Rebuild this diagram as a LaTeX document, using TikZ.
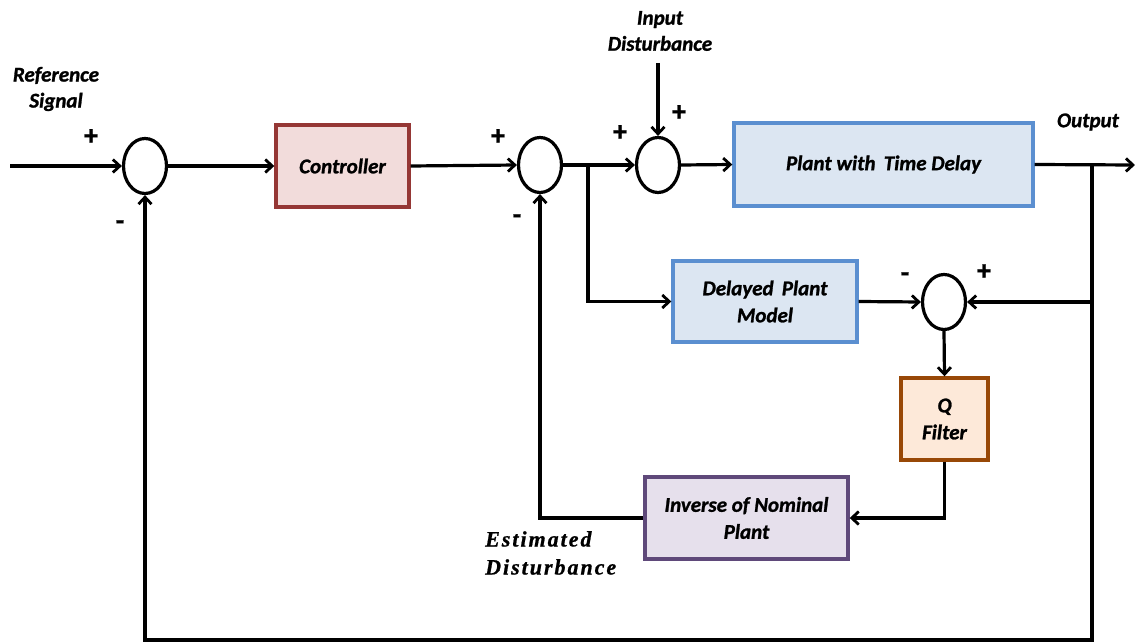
\documentclass[tikz,border=0pt]{standalone}
\usepackage{fontspec}
\setmainfont{Carlito}[BoldItalicFeatures={FakeBold=1.2},BoldFeatures={FakeBold=1.2}]
\newfontfamily\estfont{Liberation Serif}[LetterSpace=9,BoldItalicFeatures={FakeBold=0.8}]
\usetikzlibrary{arrows.meta,shapes.geometric}
\definecolor{ctrlfill}{HTML}{F2DCDB}
\definecolor{ctrldraw}{HTML}{953735}
\definecolor{plantfill}{HTML}{DCE6F2}
\definecolor{plantdraw}{HTML}{5B8FD0}
\definecolor{qfill}{HTML}{FDE9D9}
\definecolor{qdraw}{HTML}{984807}
\definecolor{invfill}{HTML}{E6E0EC}
\definecolor{invdraw}{HTML}{5F497A}
\tikzset{
  sumnode/.style={ellipse,draw=black,line width=3.2pt,minimum width=43pt,minimum height=55pt,inner sep=0pt,fill=white},
  blockbox/.style={rectangle,line width=3.4pt,align=center,inner sep=0pt,
    font=\fontsize{21}{27}\selectfont\bfseries\itshape},
  wire/.style={line width=3.2pt,-{Straight Barb[length=7pt,width=13pt,line width=2.8pt]}},
  sign/.style={font=\fontsize{28}{28}\selectfont\bfseries,inner sep=0pt},
  lbl/.style={font=\fontsize{21}{26}\selectfont\bfseries\itshape,align=center,inner sep=0pt},
}
\begin{document}
\begin{tikzpicture}[x=1pt,y=-1pt]
\useasboundingbox (0,0) rectangle (1135,644);
% summing junctions
\node[sumnode] (s1) at (145,166) {};
\node[sumnode] (s2) at (540,165) {};
\node[sumnode] (s3) at (658,165) {};
\node[sumnode] (s4) at (944,302) {};
% blocks
\node[blockbox,fill=ctrlfill,draw=ctrldraw,minimum width=133pt,minimum height=82pt] (ctrl) at (342.5,166) {Controller};
\node[blockbox,fill=plantfill,draw=plantdraw,minimum width=299pt,minimum height=83pt] (plant) at (883.5,164.5) {Plant with\, Time Delay};
\node[blockbox,fill=plantfill,draw=plantdraw,minimum width=184pt,minimum height=81pt] (dpm) at (765,301.5) {Delayed\, Plant\\Model};
\node[blockbox,fill=qfill,draw=qdraw,minimum width=87pt,minimum height=82pt] (qf) at (944.5,419) {Q\\Filter};
\node[blockbox,fill=invfill,draw=invdraw,minimum width=203pt,minimum height=82pt] (inv) at (746.5,518) {Inverse of Nominal\\Plant};
% texts
\node[lbl] (reft) at (56,89) {Reference\\Signal};
\node[lbl] (dist) at (660,31) {Input\\Disturbance};
\node[lbl] (outt) at (1088,122) {Output};
\node[font=\fontsize{22}{28}\selectfont\bfseries\itshape\estfont,align=left,inner sep=0pt,anchor=west] (estd) at (485,553) {Estimated\\Disturbance};
% signs
\node[sign] (p1) at (91,137) {+};
\node[sign] (m1) at (120,225) {-};
\node[sign] (p2) at (498,137) {+};
\node[sign] (m2) at (517,219) {-};
\node[sign] (p3) at (620,133) {+};
\node[sign] (p4) at (679,113) {+};
\node[sign] (m4) at (905,277) {-};
\node[sign] (p5) at (984,272) {+};
% coordinates for free ends and corners
\coordinate (in) at (10,166);
\coordinate (dtop) at (658,63);
\coordinate (out) at (1135,165);
\coordinate (br1) at (588,165);
\coordinate (br2) at (1092,165);
\coordinate (bot) at (1092,640);
% forward path
\draw[wire] (in) -- (s1.west);
\draw[wire] (s1.east) -- (ctrl.west);
\draw[wire] (ctrl.east) -- (s2.west);
\draw[wire] (s2.east) -- (s3.west);
\draw[wire] (dtop) -- (s3.north);
\draw[wire] (s3.east) -- (plant.west);
\draw[wire] (plant.east) -- (out);
% internal model branch
\draw[wire] (br1) |- (dpm.west);
\draw[wire] (dpm.east) -- (s4.west);
\draw[wire] (br2) |- (s4.east);
\draw[wire] (s4.south) -- (qf.north);
\draw[wire] (qf.south) |- (inv.east);
\draw[wire] (inv.west) -| (s2.south);
% outer feedback
\draw[wire] (br2) -- (bot) -| (s1.south);
\end{tikzpicture}
\end{document}
